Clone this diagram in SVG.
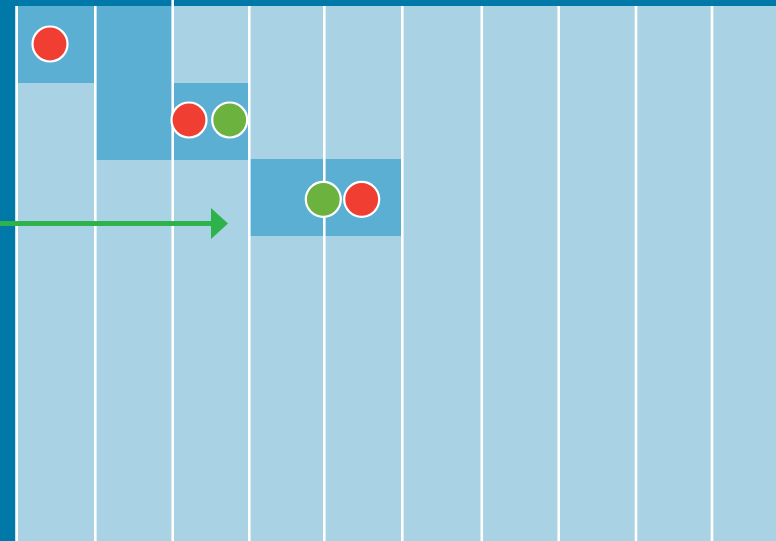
<svg xmlns="http://www.w3.org/2000/svg" width="776" height="541" viewBox="0 0 776 541">
  <defs>
    <style>
      .bg { fill: #a9d3e4; }
      .blk { fill: #5aafd3; }
      .bar { fill: #0079a9; }
      .grid line { stroke: #ffffff; stroke-width: 2.6; }
      .red { fill: #f03e33; stroke: #ffffff; stroke-width: 2.2; }
      .green { fill: #6bb23f; stroke: #ffffff; stroke-width: 2.2; }
    </style>
    <marker id="arrowhead" markerUnits="userSpaceOnUse" markerWidth="17" markerHeight="31" refX="0" refY="15.5" orient="auto">
      <polygon points="0,0 17,15.5 0,31" fill="#2db34a"/>
    </marker>
  </defs>
  <rect class="bg" x="0" y="0" width="776" height="541"/>
  <g id="blocks">
    <rect class="blk" x="16" y="6" width="79" height="77"/>
    <rect class="blk" x="95" y="6" width="78" height="154"/>
    <rect class="blk" x="172" y="83" width="77" height="77"/>
    <rect class="blk" x="249" y="159" width="153" height="77"/>
  </g>
  <rect class="bar" x="0" y="0" width="776" height="6"/>
  <rect class="bar" x="0" y="0" width="15.3" height="541"/>
  <g class="grid">
    <line x1="16.7" y1="6" x2="16.7" y2="541"/>
    <line x1="95.3" y1="6" x2="95.3" y2="541"/>
    <line x1="172.7" y1="0" x2="172.7" y2="541"/>
    <line x1="249.3" y1="6" x2="249.3" y2="541"/>
    <line x1="324.3" y1="6" x2="324.3" y2="541"/>
    <line x1="402.3" y1="6" x2="402.3" y2="541"/>
    <line x1="481.8" y1="6" x2="481.8" y2="541"/>
    <line x1="558.7" y1="6" x2="558.7" y2="541"/>
    <line x1="636" y1="6" x2="636" y2="541"/>
    <line x1="712" y1="6" x2="712" y2="541"/>
  </g>
  <g id="connectors">
    <line x1="0" y1="223.5" x2="211" y2="223.5" stroke="#2db34a" stroke-width="5" marker-end="url(#arrowhead)"/>
  </g>
  <g id="node1"><circle class="red" cx="50" cy="44" r="17.5"/></g>
  <g id="node2"><circle class="red" cx="189" cy="120" r="17.5"/></g>
  <g id="node3"><circle class="green" cx="229.7" cy="120" r="17.5"/></g>
  <g id="node4"><circle class="green" cx="323.3" cy="199.3" r="17.5"/></g>
  <g id="node5"><circle class="red" cx="361.7" cy="199.3" r="17.5"/></g>
</svg>
